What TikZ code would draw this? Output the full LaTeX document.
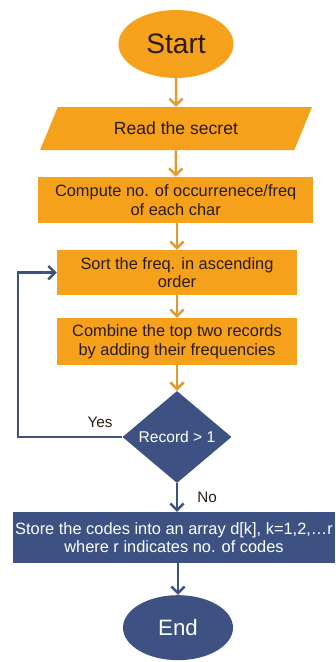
\documentclass[tikz,border=0pt]{standalone}
\usepackage{fontspec}
\setsansfont{Liberation Sans}
\usepackage{tikz}
\usetikzlibrary{shapes, shapes.geometric, arrows.meta, positioning, calc}

\definecolor{flowOrange}{HTML}{F6A11C}
\definecolor{arrowOrange}{HTML}{E39A2E}
\definecolor{flowNavy}{HTML}{3D5282}
\definecolor{textDark}{HTML}{2A1C10}

\begin{document}
\begin{tikzpicture}[
    % Define styles
    termbox/.style={ellipse, fill=flowOrange, minimum width=3.45cm, minimum height=2.04cm, inner sep=0pt, font=\sffamily\fontsize{24}{28}\selectfont, text=textDark},
    iobox/.style={trapezium, trapezium left angle=36, trapezium right angle=144, trapezium stretches body, fill=flowOrange, minimum width=8.16cm, minimum height=1.29cm, inner sep=0pt, font=\sffamily\fontsize{15}{18}\selectfont, text=textDark},
    procbox/.style={rectangle, fill=flowOrange, minimum height=1.38cm, inner sep=0pt, align=center, font=\sffamily\fontsize{14}{16}\selectfont, text=textDark},
    decbox/.style={diamond, fill=flowNavy, minimum width=3.27cm, minimum height=2.76cm, inner sep=0pt, font=\sffamily\fontsize{13.3}{16}\selectfont, text=white},
    storebox/.style={rectangle, fill=flowNavy, minimum width=9.66cm, minimum height=1.53cm, inner sep=0pt, align=center, font=\sffamily\fontsize{14}{16}\selectfont, text=white},
    endbox/.style={ellipse, fill=flowNavy, minimum width=3.3cm, minimum height=1.95cm, inner sep=0pt, font=\sffamily\fontsize{19}{22}\selectfont, text=white},
    tag/.style={font=\sffamily\fontsize{13}{15}\selectfont, text=textDark},
    orarrow/.style={-{Straight Barb[length=0.2cm, width=0.4cm]}, line width=0.075cm, draw=arrowOrange},
    navarrow/.style={-{Straight Barb[length=0.2cm, width=0.4cm]}, line width=0.075cm, draw=flowNavy}
]
    \useasboundingbox (0,0) rectangle (10.08,-19.86);

    % 1. Start and input
    \node[termbox] (start) at (5.28, -1.32) {Start};
    \node[iobox] (read) at (5.28, -3.86) {Read the secret};

    % 2. Processing steps
    \node[procbox, minimum width=8.25cm] (count) at (5.27, -6.0) {Compute no. of occurrenece/freq\\of each char};
    \node[procbox, minimum width=7.2cm, minimum height=1.35cm] (sort) at (5.31, -8.18) {Sort the freq. in ascending\\order};
    \node[procbox, minimum width=7.2cm, minimum height=1.41cm] (merge) at (5.31, -10.25) {Combine the top two records\\by adding their frequencies};

    % 3. Decision, output and end
    \node[decbox] (decide) at (5.31, -13.11) {Record > 1};
    \node[storebox] (store) at (5.22, -16.13) {Store the codes into an array d[k], k=1,2,\ldots r\\where r indicates no. of codes};
    \node[endbox] (finish) at (5.34, -18.83) {End};

    % Labels on the branches
    \node[tag] (yes) at (3.0, -12.66) {Yes};
    \node[tag] (no) at (6.21, -14.91) {No};
    \coordinate (loop) at (0.54, -13.11);

    % 4. Connections (Arrows)
    \draw[orarrow] (start) -- (read);
    \draw[orarrow] (read) -- (count);
    \draw[orarrow] (count.south -| sort.north) -- (sort.north);
    \draw[orarrow] (sort) -- (merge);
    \draw[orarrow] (merge) -- (decide);
    \draw[navarrow] (decide) -- (decide.south |- store.north);
    \draw[navarrow] (store.south -| finish.north) -- (finish);

    % Yes branch goes back to sorting
    \draw[navarrow] (decide.west) -- (loop) |- (sort.west);

\end{tikzpicture}
\end{document}
